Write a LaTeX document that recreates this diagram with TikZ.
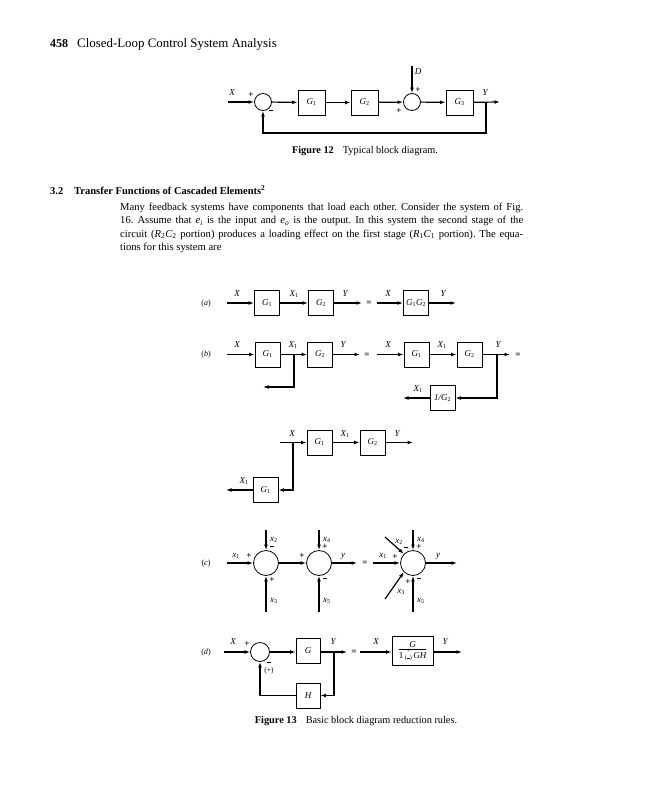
\documentclass[tikz,border=0pt]{standalone}
\usepackage{amsmath}
\usepackage{fontspec}
\setmainfont{Liberation Serif}
\usetikzlibrary{arrows.meta,calc}
\newcommand\dlbl{\fontsize{9}{10}\selectfont\itshape}
\newcommand\GG[1]{G\textsubscript{\upshape #1}}
\newcommand\XX[1]{X\textsubscript{\upshape #1}}
\newcommand\xx[1]{x\textsubscript{\upshape #1}}
\newcommand\mns{\rule[2.2pt]{4.5pt}{0.9pt}}
\begin{document}
\begin{tikzpicture}[x=1pt,y=-1pt,
  blk/.style={draw,line width=0.8pt,minimum width=25pt,minimum height=25pt,inner sep=0pt,font=\dlbl},
  sumc/.style={draw,circle,line width=0.8pt,inner sep=0pt},
  sig/.style={line width=1.2pt,-{Latex[length=5.5pt,width=3.8pt]}},
  lab/.style={inner sep=0pt,font=\dlbl},
  sgn/.style={inner sep=0pt,font=\bfseries\fontsize{9}{9}\selectfont},
  eqs/.style={inner sep=0pt,font=\bfseries\fontsize{9}{9}\selectfont},
  tag/.style={inner sep=0pt,font=\fontsize{8}{9}\selectfont},
]
\useasboundingbox (0,0) rectangle (647,800);
\fill[white] (0,0) rectangle (647,800);

% ---------- header ----------
\node[anchor=base west,inner sep=0,font=\bfseries\fontsize{12}{14}\selectfont] (pg) at (50,48) {458};
\node[anchor=base west,inner sep=0,font=\fontsize{12.9}{14}\selectfont] (hd) at (77,48) {Closed-Loop Control System Analysis};

% ---------- Figure 12 ----------
\node[sumc,minimum size=17pt] (s1) at (263,102) {};
\node[blk,minimum width=27pt] (g1) at (311.5,102.5) {\GG1};
\node[blk,minimum width=27pt] (g2) at (364.5,102.5) {\GG2};
\node[sumc,minimum size=17pt] (s2) at (412,102) {};
\node[blk,minimum width=27pt] (g3) at (459.5,102.5) {\GG3};
\coordinate (xin12) at (228,102);
\coordinate (d12) at (412,66);
\coordinate (br12) at (486,102);
\coordinate (out12) at (500,102);
\coordinate (fb12) at (486,133);
\draw[sig] (xin12) -- (s1);
\draw[sig] (s1) -- (g1);
\draw[sig] (g1) -- (g2);
\draw[sig] (g2) -- (s2);
\draw[sig] (s2) -- (g3);
\draw[sig] (d12) -- (s2);
\draw[sig] (g3) -- (out12);
\draw[sig] (br12) -- (fb12) -| (s1.south);
\node[lab] (lx12) at (232,93) {X};
\node[sgn] (p12a) at (251,95) {+};
\node[sgn] (m12a) at (271,112) {\mns};
\node[lab] (ld12) at (418,72) {D};
\node[sgn] (p12b) at (418,90) {+};
\node[sgn] (p12c) at (399,111) {+};
\node[lab] (ly12) at (485,93) {Y};
\node[inner sep=0,font=\fontsize{10.3}{12}\selectfont] (cap12) at (365,151) {\textbf{Figure 12}\hspace{9pt}Typical block diagram.};

% ---------- Section text ----------
\node[anchor=base west,inner sep=0,font=\bfseries\fontsize{10.5}{12}\selectfont] (sn) at (50,194) {3.2};
\node[anchor=base west,inner sep=0,font=\bfseries\fontsize{10.5}{12}\selectfont] (st) at (74,194) {Transfer Functions of Cascaded Elements\textsuperscript{2}};
\node[anchor=north west,inner sep=0,align=left,font=\frenchspacing\fontsize{10.6}{13.5}\selectfont] (para) at (120,202.5) {%
\makebox[403pt][s]{Many feedback systems have components that load each other. Consider the system of Fig.}\\
\makebox[403pt][s]{16. Assume that \textit{e}\textsubscript{\textit{i}} is the input and \textit{e}\textsubscript{\textit{o}} is the output. In this system the second stage of the}\\
\makebox[403pt][s]{circuit (\textit{R}\textsubscript{2}\textit{C}\textsubscript{2} portion) produces a loading effect on the first stage (\textit{R}\textsubscript{1}\textit{C}\textsubscript{1} portion). The equa-}\\
tions for this system are};

% ---------- Figure 13 (a) ----------
\node[tag] (ta) at (206,304) {(\textit{a})};
\node[blk] (a1) at (267,303) {\GG1};
\node[blk] (a2) at (321,303) {\GG2};
\node[blk] (a3) at (416,303) {\GG1\GG2};
\coordinate (ain) at (227,303);
\coordinate (aout) at (362,303);
\coordinate (ain2) at (377,303);
\coordinate (aout2) at (456,303);
\draw[sig] (ain) -- (a1);
\draw[sig] (a1) -- (a2);
\draw[sig] (a2) -- (aout);
\draw[sig] (ain2) -- (a3);
\draw[sig] (a3) -- (aout2);
\node[lab] (lax) at (237,294) {X};
\node[lab] (lax1) at (294,294) {\XX1};
\node[lab] (lay) at (345,294) {Y};
\node[eqs] (aeq) at (369,303.5) {=};
\node[lab] (lax2) at (388,294) {X};
\node[lab] (lay2) at (443,294) {Y};

% ---------- Figure 13 (b) ----------
\node[tag] (tb) at (206,355) {(\textit{b})};
\node[blk] (b1) at (267.5,354.5) {\GG1};
\node[blk] (b2) at (320,354.5) {\GG2};
\coordinate (bin) at (227,354.5);
\coordinate (bbr) at (294,354.5);
\coordinate (bdn) at (294,387);
\coordinate (bend) at (263,387);
\coordinate (bout) at (360,354.5);
\draw[sig] (bin) -- (b1);
\draw[sig] (b1) -- (b2);
\draw[sig] (b2) -- (bout);
\draw[sig] (bbr) -- (bdn) -- (bend);
\node[lab] (lbx) at (237,345) {X};
\node[lab] (lbx1) at (293,345) {\XX1};
\node[lab] (lby) at (343,345) {Y};
\node[eqs] (beq) at (367,355) {=};

\node[blk] (b3) at (416.5,354.5) {\GG1};
\node[blk] (b4) at (469.5,354.5) {\GG2};
\node[blk] (b5) at (442.5,398) {1/\GG2};
\coordinate (bin2) at (377,354.5);
\coordinate (bbr2) at (497,354.5);
\coordinate (bout2) at (510,354.5);
\coordinate (bdn2) at (497,398);
\coordinate (bend2) at (403,398);
\draw[sig] (bin2) -- (b3);
\draw[sig] (b3) -- (b4);
\draw[sig] (b4) -- (bout2);
\draw[sig] (bbr2) -- (bdn2) -- (b5);
\draw[sig] (b5) -- (bend2);
\node[lab] (lbx2) at (388,345) {X};
\node[lab] (lbx3) at (442,345) {\XX1};
\node[lab] (lby2) at (498,345) {Y};
\node[lab] (lbx4) at (418,389) {\XX1};
\node[eqs] (beq2) at (518,355) {=};

% third arrangement
\node[blk] (b6) at (319.5,442.5) {\GG1};
\node[blk] (b7) at (372.5,442.5) {\GG2};
\node[blk] (b8) at (265.5,490) {\GG1};
\coordinate (cin) at (280,442.5);
\coordinate (cbr) at (293,442.5);
\coordinate (cdn) at (293,490);
\coordinate (cout) at (413,442.5);
\coordinate (cend) at (226,490);
\draw[sig] (cin) -- (b6);
\draw[sig] (b6) -- (b7);
\draw[sig] (b7) -- (cout);
\draw[sig] (cbr) -- (cdn) -- (b8);
\draw[sig] (b8) -- (cend);
\node[lab] (lcx) at (292,434) {X};
\node[lab] (lcx1) at (345,434) {\XX1};
\node[lab] (lcy) at (397,434) {Y};
\node[lab] (lcx2) at (244,481) {\XX1};

% ---------- Figure 13 (c) ----------
\node[tag] (tc) at (206,564) {(\textit{c})};
\node[sumc,minimum size=25pt] (c1) at (266,563) {};
\node[sumc,minimum size=25pt] (c2) at (319,563) {};
\node[sumc,minimum size=25pt] (c3) at (413,563) {};
\coordinate (cx1) at (227,563);
\coordinate (cx2) at (266,530);
\coordinate (cx3) at (266,612);
\coordinate (cx4) at (319,530);
\coordinate (cx5) at (319,612);
\coordinate (cy) at (357,563);
\draw[sig] (cx1) -- (c1);
\draw[sig] (cx2) -- (c1);
\draw[sig] (cx3) -- (c1);
\draw[sig] (c1) -- (c2);
\draw[sig] (cx4) -- (c2);
\draw[sig] (cx5) -- (c2);
\draw[sig] (c2) -- (cy);
\node[lab] (lc1) at (236,556) {\xx1};
\node[sgn] (pc1) at (249,556) {+};
\node[lab,anchor=west] (lc2) at (270,540) {\xx2};
\node[sgn] (mc2) at (272,547.5) {\mns};
\node[sgn] (pc3) at (272,580) {+};
\node[lab,anchor=west] (lc3) at (270,601) {\xx3};
\node[sgn] (pc12) at (302,556) {+};
\node[lab,anchor=west] (lc4) at (323,540) {\xx4};
\node[sgn] (pc4) at (325,547) {+};
\node[sgn] (mc5) at (325,580) {\mns};
\node[lab,anchor=west] (lc5) at (323,601) {\xx5};
\node[lab] (lcy1) at (343,556) {y};
\node[eqs] (ceq) at (365,563.5) {=};

\coordinate (dx1) at (373,563);
\coordinate (dx2) at (385,537);
\coordinate (dx3) at (385,599);
\coordinate (dx4) at (413,530);
\coordinate (dx5) at (413,612);
\coordinate (dy) at (457,563);
\draw[sig] (dx1) -- (c3);
\draw[sig] (dx2) -- (c3.north west);
\draw[sig] (dx3) -- (c3.south west);
\draw[sig] (dx4) -- (c3);
\draw[sig] (dx5) -- (c3);
\draw[sig] (c3) -- (dy);
\node[lab] (ld1) at (383,556) {\xx1};
\node[sgn] (pd1) at (395,557) {+};
\node[lab] (ld2) at (399,542) {\xx2};
\node[sgn] (md2) at (406,549) {\mns};
\node[lab,anchor=west] (ld4) at (417,540) {\xx4};
\node[sgn] (pd4) at (419,547) {+};
\node[sgn] (pd3) at (408,582) {+};
\node[lab] (ld3) at (401,592) {\xx3};
\node[sgn] (md5) at (419,580) {\mns};
\node[lab,anchor=west] (ld5) at (417,601) {\xx5};
\node[lab] (ldy) at (438,556) {y};

% ---------- Figure 13 (d) ----------
\node[tag] (td) at (206,653) {(\textit{d})};
\node[sumc,minimum size=19pt] (e1) at (260,652) {};
\node[blk,minimum width=24pt] (eg) at (308,651) {G};
\node[blk,minimum width=24pt] (eh) at (308,695.5) {H};
\node[blk,minimum width=41pt,minimum height=29pt] (er) at (412.5,651) {%
\begin{tabular}{@{}c@{}}G\\[-2pt]\hline\rule{0pt}{8.5pt}\upshape 1\,\raisebox{-1.5pt}{\fontsize{6}{5}\selectfont\shortstack{+\\(\rule[1.5pt]{3pt}{0.6pt})}}\,\itshape GH\end{tabular}};
\coordinate (ein) at (224,652);
\coordinate (ebr) at (334,652);
\coordinate (eout) at (347,652);
\coordinate (edn) at (334,695.5);
\coordinate (ecorner) at (260,695.5);
\coordinate (ein2) at (360,652);
\coordinate (eout2) at (462,652);
\draw[sig] (ein) -- (e1);
\draw[sig] (e1) -- (eg.west |- e1);
\draw[sig] (eg.east |- ebr) -- (eout);
\draw[sig] (ebr) -- (edn) -- (eh);
\draw[sig] (eh) -- (ecorner) -- (e1);
\draw[sig] (ein2) -- (er.west |- ein2);
\draw[sig] (er.east |- eout2) -- (eout2);
\node[lab] (lex) at (233,642) {X};
\node[sgn] (pe) at (247,644) {+};
\node[sgn,align=center,font=\fontsize{7.5}{7}\selectfont] (me) at (269,668) {\mns\\(+)};
\node[lab] (ley) at (333,642) {Y};
\node[eqs] (eeq) at (354,652.5) {=};
\node[lab] (lex2) at (376,642) {X};
\node[lab] (ley2) at (445,642) {Y};

\node[inner sep=0,font=\fontsize{10.3}{12}\selectfont] (cap13) at (356,721) {\textbf{Figure 13}\hspace{9pt}Basic block diagram reduction rules.};
\end{tikzpicture}
\end{document}
